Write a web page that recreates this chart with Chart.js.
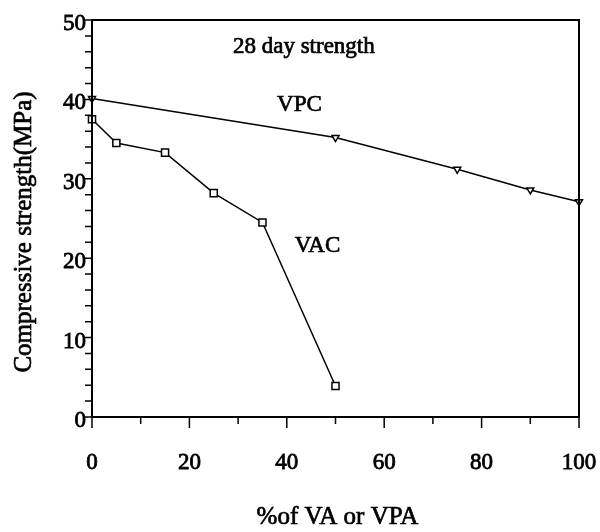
<!DOCTYPE html>
<html>
<head>
<meta charset="utf-8">
<script src="https://cdn.jsdelivr.net/npm/chart.js@4/dist/chart.umd.min.js"></script>
<style>
  html, body { margin: 0; padding: 0; background: #fff; }
  #wrap { width: 600px; height: 532px; }
</style>
</head>
<body>
<div id="wrap"><canvas id="c" width="600" height="532"></canvas></div>
<script>
// ---- data ----
const vacX = [0, 5, 15, 25, 35, 50];
const vacY = [37.5, 34.5, 33.3, 28.2, 24.5, 3.9];
const vpcX = [0, 50, 75, 90, 100];
const vpcY = [40.1, 35.2, 31.2, 28.6, 27.1];

const xMajorTicks = [0, 20, 40, 60, 80, 100];
const xMinorTicks = [10, 30, 50, 70, 90];
const yMajorTicks = [0, 10, 20, 30, 40, 50];
const yMinorTicks = [2, 4, 6, 8, 12, 14, 16, 18, 22, 24, 26, 28, 32, 34, 36, 38, 42, 44, 46, 48];

const xTitle = '%of VA or VPA';
const yTitle = 'Compressive strength(MPa)';
const noteText = '28 day strength';
const vpcLabel = 'VPC';
const vacLabel = 'VAC';

const FONT = '"Liberation Serif", "Times New Roman", serif';

function toPoints(xs, ys) { return xs.map((x, i) => ({ x: x, y: ys[i] })); }

function inkText(ctx, t, x, y) {
  ctx.fillText(t, x, y);
  ctx.strokeText(t, x, y);
}

const decor = {
  id: 'decor',
  afterDatasetsDraw(chart) {
    const ctx = chart.ctx;
    const a = chart.chartArea;
    const xs = chart.scales.x, ys = chart.scales.y;
    ctx.save();
    ctx.strokeStyle = '#000';
    ctx.lineWidth = 2;
    ctx.strokeRect(a.left, a.top, a.right - a.left, a.bottom - a.top);
    // ticks (outward)
    ctx.lineWidth = 1.5;
    ctx.beginPath();
    xMajorTicks.forEach(v => { const p = xs.getPixelForValue(v); ctx.moveTo(p, a.bottom); ctx.lineTo(p, a.bottom + 11); });
    xMinorTicks.forEach(v => { const p = xs.getPixelForValue(v); ctx.moveTo(p, a.bottom); ctx.lineTo(p, a.bottom + 7); });
    yMajorTicks.forEach(v => { const p = ys.getPixelForValue(v); ctx.moveTo(a.left, p); ctx.lineTo(a.left - 9, p); });
    yMinorTicks.forEach(v => { const p = ys.getPixelForValue(v); ctx.moveTo(a.left, p); ctx.lineTo(a.left - 7, p); });
    ctx.stroke();
    // texts
    ctx.fillStyle = '#000';
    ctx.lineWidth = 0.7;
    ctx.textAlign = 'center';
    ctx.textBaseline = 'middle';
    ctx.font = '23px ' + FONT;
    inkText(ctx, noteText, xs.getPixelForValue(43.5), ys.getPixelForValue(46.6));
    inkText(ctx, vpcLabel, xs.getPixelForValue(42.6), ys.getPixelForValue(39.3));
    inkText(ctx, vacLabel, xs.getPixelForValue(46.3), ys.getPixelForValue(21.5));
    ctx.font = '25px ' + FONT;
    inkText(ctx, xTitle, (a.left + a.right) / 2 + 2, 517);
    ctx.translate(24, 232);
    ctx.rotate(-Math.PI / 2);
    inkText(ctx, yTitle, 0, 0);
    ctx.restore();
  }
};

new Chart(document.getElementById('c'), {
  type: 'scatter',
  data: {
    datasets: [
      {
        label: 'VAC',
        data: toPoints(vacX, vacY),
        showLine: true,
        borderColor: '#000',
        borderWidth: 1.5,
        pointStyle: 'rect',
        pointRadius: 5,
        pointBorderWidth: 1.5,
        pointBackgroundColor: '#fff',
        pointBorderColor: '#000',
        clip: false
      },
      {
        label: 'VPC',
        data: toPoints(vpcX, vpcY),
        showLine: true,
        borderColor: '#000',
        borderWidth: 1.5,
        pointStyle: 'triangle',
        rotation: 180,
        pointRadius: 4,
        pointBorderWidth: 1.5,
        pointBackgroundColor: '#fff',
        pointBorderColor: '#000',
        clip: false
      }
    ]
  },
  options: {
    responsive: false,
    animation: false,
    layout: { padding: { top: 20, right: 21, left: 0, bottom: 0 } },
    plugins: { legend: { display: false }, tooltip: { enabled: false } },
    scales: {
      x: {
        type: 'linear', min: 0, max: 100,
        afterFit(s) { s.height = 115; s.paddingLeft = 0; s.paddingRight = 0; },
        grid: { drawOnChartArea: false, drawTicks: false },
        border: { display: false },
        ticks: {
          stepSize: 20, padding: 32, color: '#000',
          textStrokeColor: '#000', textStrokeWidth: 0.8,
          font: { family: FONT, size: 23 },
          maxRotation: 0
        }
      },
      y: {
        type: 'linear', min: 0, max: 50,
        afterFit(s) { s.width = 92; s.paddingTop = 0; s.paddingBottom = 0; },
        grid: { drawOnChartArea: false, drawTicks: false },
        border: { display: false },
        ticks: {
          stepSize: 10, padding: 6, color: '#000', labelOffset: 4,
          textStrokeColor: '#000', textStrokeWidth: 0.8,
          font: { family: FONT, size: 23 }
        }
      }
    }
  },
  plugins: [decor]
});
</script>
</body>
</html>
